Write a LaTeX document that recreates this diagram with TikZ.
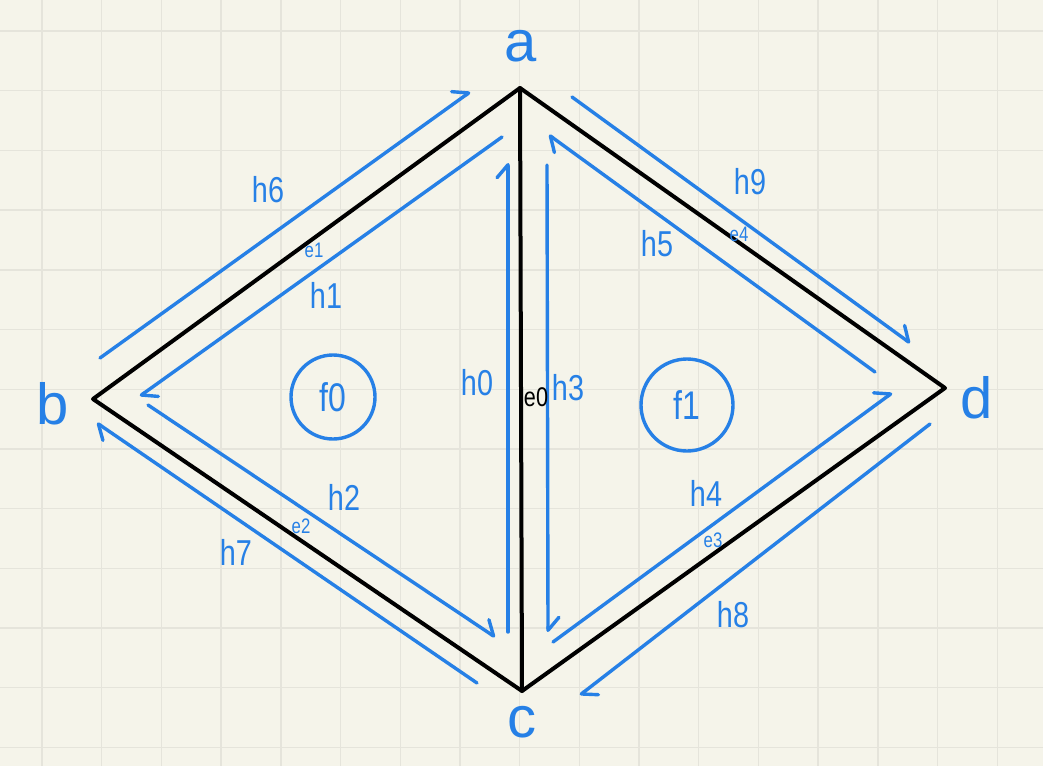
\documentclass[tikz,border=0pt]{standalone}
\usepackage{fontspec}
\setmainfont{Liberation Sans}
\newfontfamily\handfont[FakeStretch=0.8]{Liberation Sans}
\usetikzlibrary{arrows.meta}
\definecolor{paper}{RGB}{245,244,234}
\definecolor{gridline}{RGB}{229,228,219}
\definecolor{pen}{RGB}{38,128,230}
\begin{document}
\begin{tikzpicture}[
        x=1pt, y=-1pt,
        edge/.style={draw=black, line width=4pt, line cap=round, line join=round},
        halfedge/.style={
            draw=pen,
            line width=3.4pt,
            line cap=round,
            -{Straight Barb[left, round, length=13pt, width=22pt]}
        },
        vlabel/.style={text=pen, font=\fontsize{58}{60}\selectfont},
        hlabel/.style={text=pen, font=\handfont\fontsize{36}{38}\selectfont},
        elabel/.style={text=pen, font=\handfont\fontsize{21}{23}\selectfont},
        face/.style={
            circle,
            draw=pen,
            line width=3.4pt,
            minimum size=84pt,
            inner sep=0pt,
            text=pen,
            font=\handfont\fontsize{40}{42}\selectfont
        }
    ]

    % =========================
    % Paper
    % =========================
    \fill[paper] (0,0) rectangle (1043,766);
    \useasboundingbox (0,0) rectangle (1043,766);
    \foreach \k in {0,...,16}
        \draw[gridline, line width=1.4pt] ({42+59.7*\k},0) -- ++(0,766);
    \foreach \k in {0,...,12}
        \draw[gridline, line width=1.4pt] (0,{31+59.7*\k}) -- ++(1043,0);

    % =========================
    % Vertices and edges
    % =========================
    \coordinate (a) at (520,88);
    \coordinate (b) at (93,399);
    \coordinate (c) at (522,691);
    \coordinate (d) at (945,388);

    \node[vlabel] (la) at (521,46) {a};
    \node[vlabel] (lb) at (53,404) {b};
    \node[vlabel] (lc) at (522,722) {c};
    \node[vlabel] (ld) at (977,398) {d};

    \draw[edge] (b) -- (a) -- (d) -- (c) -- cycle;
    \draw[edge] (a) -- (c);

    % =========================
    % Half-edges
    % =========================
    \coordinate (h0s) at (508,632);  \coordinate (h0e) at (508,163);
    \coordinate (h1s) at (502,137);  \coordinate (h1e) at (140,396);
    \coordinate (h2s) at (148,405);  \coordinate (h2e) at (495,637);
    \coordinate (h3s) at (547,165);  \coordinate (h3e) at (548,632);
    \coordinate (h4s) at (553,642);  \coordinate (h4e) at (892,393);
    \coordinate (h5s) at (875,372);  \coordinate (h5e) at (549,135);
    \coordinate (h6s) at (100,358);  \coordinate (h6e) at (470,92);
    \coordinate (h7s) at (477,683);  \coordinate (h7e) at (97,423);
    \coordinate (h8s) at (930,424);  \coordinate (h8e) at (580,695);
    \coordinate (h9s) at (572,97);   \coordinate (h9e) at (910,343);

    \draw[halfedge] (h0s) -- (h0e);
    \draw[halfedge] (h1s) -- (h1e);
    \draw[halfedge] (h2s) -- (h2e);
    \draw[halfedge] (h3s) -- (h3e);
    \draw[halfedge] (h4s) -- (h4e);
    \draw[halfedge] (h5s) -- (h5e);
    \draw[halfedge] (h6s) -- (h6e);
    \draw[halfedge] (h7s) -- (h7e);
    \draw[halfedge] (h8s) -- (h8e);
    \draw[halfedge] (h9s) -- (h9e);

    % =========================
    % Labels
    % =========================
    \node[hlabel] (lh0) at (477,383) {h0};
    \node[hlabel] (lh1) at (326,295) {h1};
    \node[hlabel] (lh2) at (344,497) {h2};
    \node[hlabel] (lh3) at (568,388) {h3};
    \node[hlabel] (lh4) at (706,493) {h4};
    \node[hlabel] (lh5) at (657,244) {h5};
    \node[hlabel] (lh6) at (268,190) {h6};
    \node[hlabel] (lh7) at (236,552) {h7};
    \node[hlabel] (lh8) at (733,615) {h8};
    \node[hlabel] (lh9) at (750,182) {h9};

    \node[elabel, text=black, inner sep=0pt, font=\handfont\fontsize{27}{29}\selectfont] (le0) at (536,397) {e0};
    \node[elabel] (le1) at (314,250) {e1};
    \node[elabel] (le2) at (301,526) {e2};
    \node[elabel] (le3) at (713,540) {e3};
    \node[elabel] (le4) at (739,234) {e4};

    % =========================
    % Faces
    % =========================
    \node[face] (f0) at (333,397) {f0};
    \node[face, minimum size=92pt] (f1) at (687,405) {f1};

\end{tikzpicture}
\end{document}
